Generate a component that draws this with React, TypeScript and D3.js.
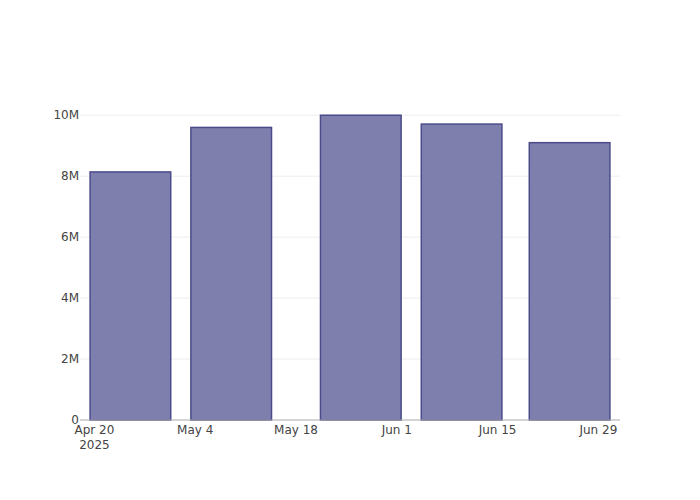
import React from "react";
import * as d3 from "d3";

const dates = ["2025-04-25", "2025-05-09", "2025-05-27", "2025-06-10", "2025-06-25"];
const values = [8.14e6, 9.6e6, 10.0e6, 9.71e6, 9.1e6];
const xTicks = ["2025-04-20", "2025-05-04", "2025-05-18", "2025-06-01", "2025-06-15", "2025-06-29"];
const yTicks = [0, 2e6, 4e6, 6e6, 8e6, 10e6];

const W = 700, H = 500;
const M = { l: 80, r: 80, t: 100, b: 80 };
const DAY = 86400000;

export default function App() {
  const parse = (s: string) => new Date(s + "T00:00:00Z");
  const ds = dates.map(parse);
  const spacing = 14 * DAY;
  const x = d3
    .scaleUtc()
    .domain([new Date(+ds[0] - spacing / 2), new Date(+ds[ds.length - 1] + spacing / 2)])
    .range([M.l, W - M.r]);
  const maxV = d3.max(values) as number;
  const y = d3.scaleLinear().domain([0, maxV * 1.05]).range([H - M.b, M.t]);
  const bw = x(new Date(+ds[0] + spacing * 0.4)) - x(new Date(+ds[0] - spacing * 0.4));
  const fmtY = (v: number) => (v === 0 ? "0" : d3.format("~s")(v));
  const fmtX = d3.utcFormat("%b %-d");
  const font = "'DejaVu Sans', Verdana, sans-serif";

  return (
    <svg width={W} height={H} style={{ position: "absolute", left: 0, top: 0, background: "#fff" }}>
      <g>
        {yTicks.filter((t) => t !== 0).map((t) => (
          <line key={t} x1={M.l} x2={W - M.r} y1={y(t)} y2={y(t)} stroke="#eee" strokeWidth={1} />
        ))}
      </g>
      <g>
        {ds.map((d, i) => (
          <rect
            key={i}
            x={x(d) - bw / 2}
            y={y(values[i])}
            width={bw}
            height={y(0) - y(values[i])}
            fill="#7f7fae"
            stroke="#4b4b8b"
            strokeWidth={1.5}
          />
        ))}
      </g>
      <line x1={M.l} x2={W - M.r} y1={y(0)} y2={y(0)} stroke="#aaa" strokeWidth={1} />
      <g fontFamily={font} fontSize={12} fill="#444">
        {yTicks.map((t) => (
          <text key={t} x={M.l - 1} y={y(t)} dy="0.35em" textAnchor="end">
            {fmtY(t)}
          </text>
        ))}
        {xTicks.map((s, i) => {
          const d = parse(s);
          return (
            <text key={s} x={x(d)} y={y(0) + 14} textAnchor="middle">
              {fmtX(d)}
              {i === 0 && (
                <tspan x={x(d)} dy={15}>
                  2025
                </tspan>
              )}
            </text>
          );
        })}
      </g>
    </svg>
  );
}
